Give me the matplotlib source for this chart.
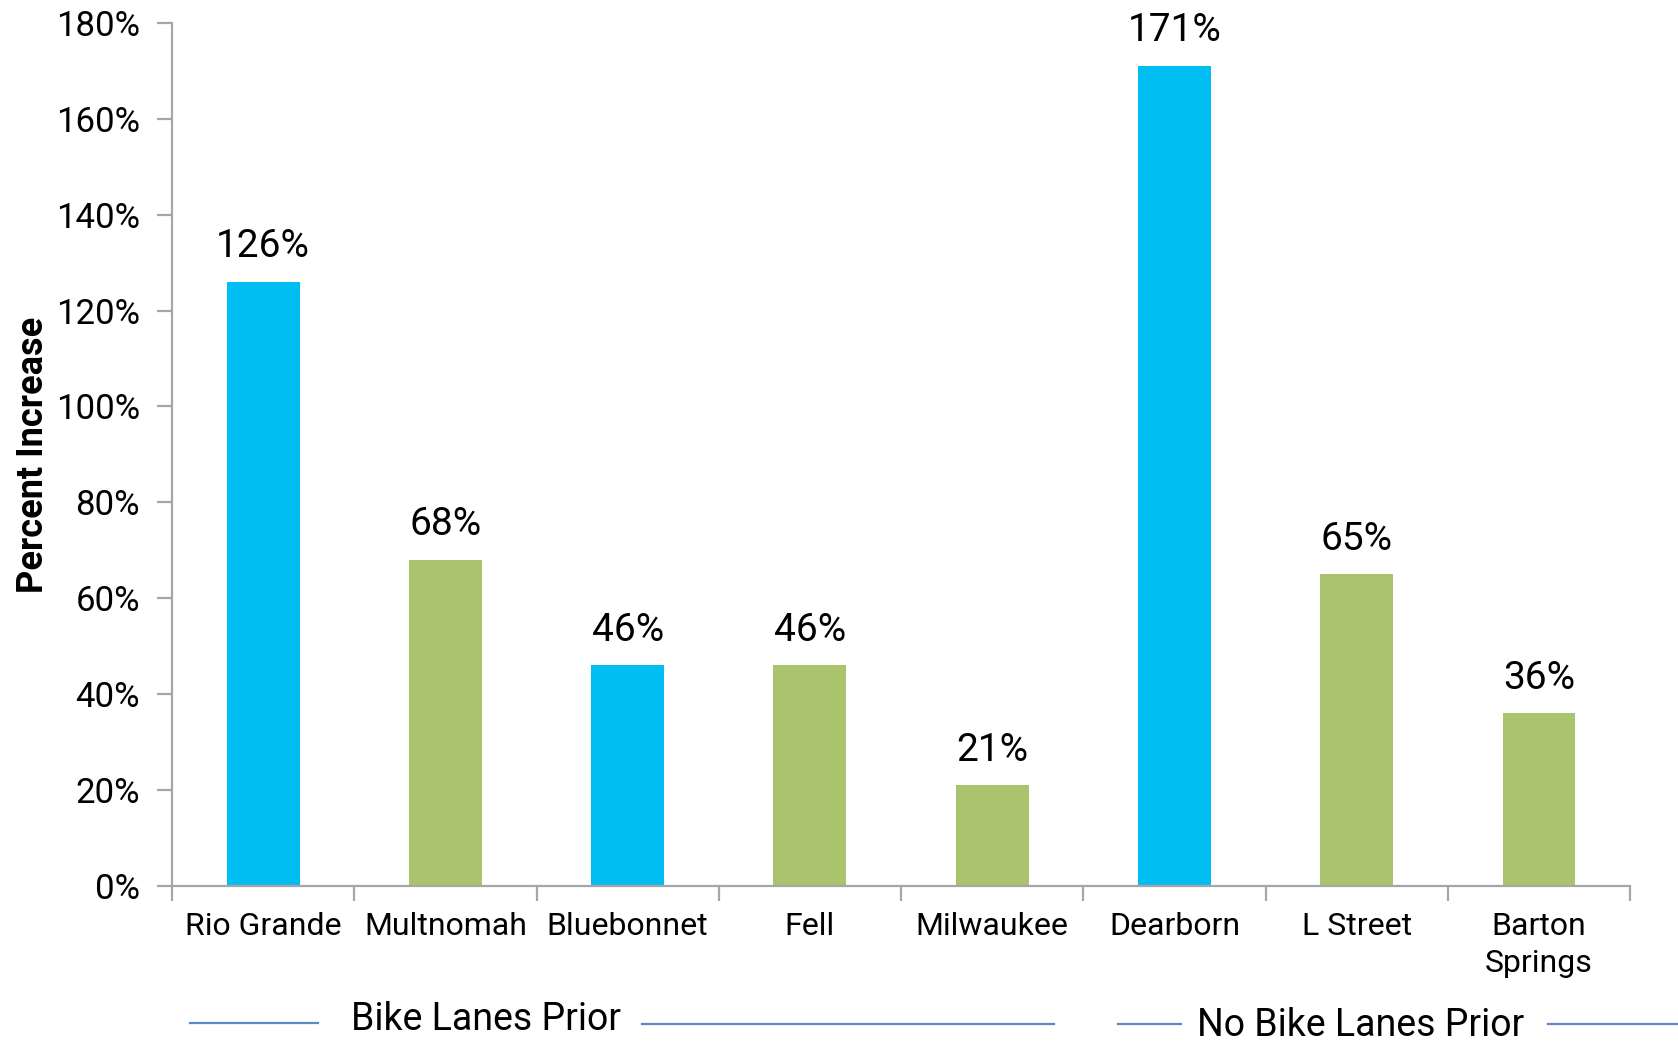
import matplotlib
matplotlib.use("Agg")
import matplotlib.pyplot as plt
from matplotlib.lines import Line2D

plt.rcParams['font.family'] = ['Roboto', 'DejaVu Sans']

# Data
streets = ["Rio Grande", "Multnomah", "Bluebonnet", "Fell", "Milwaukee",
           "Dearborn", "L Street", "Barton\nSprings"]
increase = [126, 68, 46, 46, 21, 171, 65, 36]
lane_type = ["blue", "green", "blue", "green", "green", "blue", "green", "green"]
y_ticks = [0, 20, 40, 60, 80, 100, 120, 140, 160, 180]
groups = ["Bike Lanes Prior", "No Bike Lanes Prior"]

palette = {"blue": "#00BEF2", "green": "#AAC46E"}
axis_grey = "#A6A6A6"

fig = plt.figure(figsize=(16.78, 10.41), dpi=100)
ax = fig.add_axes([0.1025, 0.1489, 0.869, 0.8291])

x = list(range(len(streets)))
bars = ax.bar(x, increase, width=0.4,
              color=[palette[c] for c in lane_type], zorder=2)

for xi, v in zip(x, increase):
    ax.annotate(f"{v}%", (xi, v), xytext=(0, 12), textcoords="offset points",
                ha="center", va="bottom", fontsize=28, color="black")

ax.set_xlim(-0.5, len(streets) - 0.5)
ax.set_ylim(0, 180)
ax.set_yticks(y_ticks)
ax.set_yticklabels([f"{t}%" for t in y_ticks], fontsize=25)

# category labels centred under bars, ticks on category boundaries
ax.set_xticks(x)
ax.set_xticklabels(streets, fontsize=23, linespacing=1.35)
ax.tick_params(axis="x", which="major", length=0, pad=19)
ax.set_xticks([i - 0.5 for i in range(len(streets) + 1)], minor=True)
ax.tick_params(axis="x", which="minor", length=11, width=1.6, color=axis_grey,
               direction="out")
ax.tick_params(axis="y", length=11, width=1.6, color=axis_grey, pad=12)

for side in ("top", "right"):
    ax.spines[side].set_visible(False)
for side in ("left", "bottom"):
    ax.spines[side].set_color(axis_grey)
    ax.spines[side].set_linewidth(1.6)

ax.set_ylabel("Percent Increase", fontsize=26, fontweight="bold")
ax.yaxis.set_label_coords(-0.083, 0.5)

# group brackets below the category labels
line_color = "#5B8BC7"
fig.text(486 / 1678, 1 - 1019 / 1041, groups[0], fontsize=27,
         ha="center", va="center")
fig.text(1361 / 1678, 1 - 1025 / 1041, groups[1], fontsize=27,
         ha="center", va="center")
segments = [((190, 318), 1023), ((642, 1054), 1024),
            ((1118, 1181), 1024), ((1548, 1678), 1024)]
for (x0, x1), yy in segments:
    fig.add_artist(Line2D([x0 / 1678, x1 / 1678], [1 - yy / 1041] * 2,
                          color=line_color, linewidth=1.6,
                          transform=fig.transFigure))

fig.savefig("out.png", dpi=100)
